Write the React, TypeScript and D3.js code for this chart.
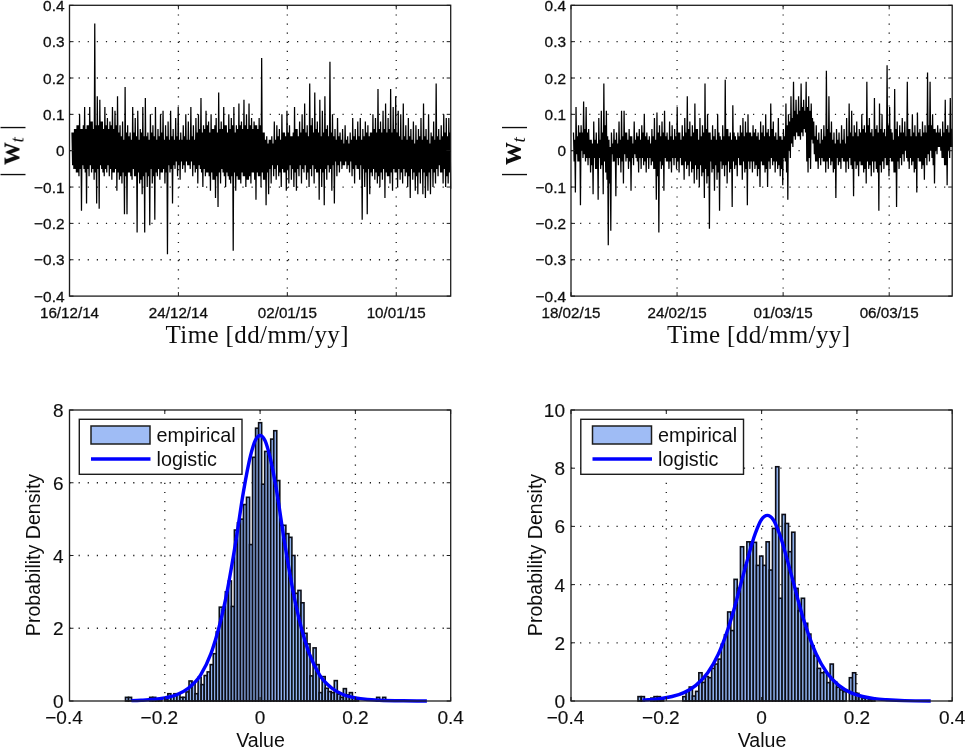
import React from "react";
import * as d3 from "d3";

const W = 965;
const H = 749;

// Time series 1: outer peaks and troughs
const highs1 = [
  .05,.06,.07,.10,.06,.12,.07,.12,.08,.35,
  .15,.14,.08,.12,.09,.08,.12,.11,.15,.07,
  .08,.175,.07,.05,.12,.09,.11,.06,.12,.145,
  .05,.10,.07,.12,.06,.10,.11,.07,.08,.11,
  .06,.09,.12,.05,.07,.10,.08,.12,.07,.09,
  .10,.145,.07,.11,.08,.10,.06,.09,.16,.08,
  .12,.07,.10,.09,.12,.07,.13,.08,.14,.10,
  .13,.09,.08,.07,.09,.255,.05,.04,.03,.04,
  .08,.07,.06,.10,.05,.11,.07,.04,.12,.06,
  .08,.10,.13,.07,.185,.09,.16,.08,.14,.11,
  .15,.07,.245,.10,.06,.09,.05,.06,.07,.04,
  .05,.09,.06,.08,.09,.06,.08,.07,.05,.10,
  .09,.17,.08,.11,.13,.09,.17,.12,.15,.11,
  .10,.13,.07,.09,.06,.08,.07,.06,.09,.13,
  .06,.10,.05,.08,.185,.06,.07,.10,.09,.09,
];
const lows1 = [
  -.05,-.06,-.07,-.165,-.05,-.145,-.07,-.06,-.08,-.145,
  -.16,-.05,-.07,-.06,-.07,-.08,-.06,-.11,-.08,-.09,
  -.175,-.175,-.06,-.08,-.07,-.225,-.09,-.12,-.225,-.10,
  -.205,-.09,-.19,-.07,-.08,-.06,-.09,-.285,-.06,-.145,
  -.05,-.07,-.08,-.05,-.06,-.04,-.05,-.07,-.06,-.09,
  -.05,-.10,-.07,-.06,-.11,-.08,-.13,-.155,-.09,-.06,
  -.10,-.07,-.09,-.275,-.11,-.08,-.09,-.07,-.10,-.08,
  -.09,-.06,-.135,-.07,-.10,-.08,-.15,-.12,-.09,-.07,
  -.08,-.07,-.10,-.06,-.11,-.09,-.08,-.10,-.11,-.07,
  -.09,-.06,-.08,-.10,-.07,-.09,-.06,-.135,-.10,-.15,
  -.08,-.06,-.11,-.145,-.07,-.06,-.05,-.04,-.05,-.06,
  -.07,-.09,-.05,-.08,-.19,-.10,-.175,-.12,-.07,-.08,
  -.09,-.10,-.08,-.13,-.07,-.09,-.11,-.06,-.10,-.08,
  -.09,-.07,-.10,-.13,-.08,-.11,-.12,-.09,-.12,-.13,
  -.11,-.12,-.10,-.09,-.07,-.06,-.09,-.10,-.09,-.105,
];
// Series 1: edge of the solid black band
const bandHigh1 = [
  .05,.06,.07,.06,.07,.06,.07,.08,.06,.07,
  .07,.08,.06,.07,.06,.07,.06,.07,.05,.04,
  .03,.05,.04,.03,.05,.04,.03,.05,.04,.04,
  .03,.05,.04,.03,.04,.05,.03,.04,.03,.04,
  .03,.04,.03,.03,.04,.03,.03,.04,.03,.05,
  .06,.05,.06,.07,.05,.06,.07,.05,.06,.06,
  .07,.05,.06,.07,.05,.06,.07,.06,.07,.06,
  .07,.06,.07,.06,.07,.05,.03,.02,.03,.02,
  .03,.04,.03,.05,.04,.05,.04,.05,.06,.04,
  .05,.06,.05,.04,.07,.05,.06,.05,.04,.05,
  .06,.04,.05,.04,.03,.04,.03,.02,.03,.02,
  .03,.04,.03,.04,.03,.04,.05,.04,.05,.06,
  .05,.06,.05,.06,.05,.06,.05,.06,.05,.04,
  .03,.04,.03,.04,.03,.02,.03,.04,.03,.04,
  .03,.02,.04,.03,.04,.03,.04,.05,.04,.05,
];
const bandLow1 = [
  -.04,-.05,-.06,-.05,-.04,-.06,-.05,-.04,-.05,-.06,
  -.05,-.04,-.06,-.05,-.04,-.05,-.06,-.05,-.06,-.07,
  -.06,-.07,-.06,-.07,-.05,-.07,-.06,-.08,-.07,-.06,
  -.07,-.05,-.07,-.06,-.05,-.06,-.05,-.06,-.04,-.05,
  -.04,-.03,-.04,-.03,-.04,-.03,-.04,-.03,-.04,-.05,
  -.04,-.06,-.05,-.06,-.07,-.06,-.08,-.07,-.06,-.05,
  -.07,-.06,-.08,-.07,-.06,-.07,-.08,-.06,-.07,-.08,
  -.07,-.06,-.08,-.06,-.07,-.06,-.08,-.06,-.05,-.04,
  -.05,-.04,-.06,-.05,-.06,-.05,-.04,-.05,-.06,-.05,
  -.04,-.05,-.04,-.06,-.05,-.04,-.05,-.06,-.05,-.06,
  -.05,-.04,-.05,-.04,-.03,-.04,-.03,-.04,-.03,-.04,
  -.03,-.05,-.04,-.05,-.04,-.05,-.06,-.05,-.06,-.05,
  -.06,-.07,-.06,-.05,-.06,-.07,-.06,-.05,-.06,-.05,
  -.06,-.05,-.06,-.07,-.05,-.06,-.07,-.06,-.05,-.06,
  -.07,-.06,-.05,-.06,-.05,-.04,-.06,-.05,-.07,-.06,
];

// Time series 2
const highs2 = [
  .05,.12,.07,.07,.135,.12,.06,.03,.08,.05,
  .09,.11,.185,.11,.03,.05,.06,.05,.08,.11,
  .11,.05,.06,.04,.08,.05,.06,.07,.10,.05,
  .04,.06,.09,.105,.07,.08,.11,.05,.08,.07,
  .06,.12,.05,.07,.09,.15,.08,.07,.13,.06,
  .09,.07,.185,.10,.05,.07,.06,.10,.04,.07,
  .195,.06,.05,.125,.04,.05,.07,.09,.08,.10,
  .05,.07,.06,.05,.08,.07,.10,.06,.13,.08,
  .05,.09,.04,.06,.13,.10,.15,.19,.14,.15,
  .185,.14,.19,.15,.13,.08,.07,.05,.06,.07,
  .22,.15,.08,.05,.06,.05,.07,.06,.09,.13,
  .11,.07,.08,.06,.10,.07,.19,.09,.06,.145,
  .07,.13,.10,.06,.235,.12,.05,.17,.08,.07,
  .09,.08,.19,.06,.10,.07,.105,.06,.08,.07,
  .215,.19,.10,.06,.07,.06,.08,.14,.07,.145,
];
const lows2 = [
  -.115,-.03,-.15,-.02,-.03,-.04,-.06,-.12,-.05,-.135,
  -.05,-.12,-.06,-.26,-.22,-.03,-.125,-.04,-.06,-.09,
  -.03,-.05,-.11,-.04,-.02,-.06,-.05,-.04,-.06,-.05,
  -.04,-.05,-.135,-.225,-.05,-.11,-.03,-.05,-.06,-.04,
  -.05,-.06,-.04,-.08,-.05,-.07,-.06,-.09,-.08,-.10,
  -.07,-.13,-.09,-.215,-.06,-.11,-.08,-.165,-.05,-.07,
  -.09,-.06,-.155,-.05,-.07,-.04,-.08,-.06,-.15,-.05,
  -.06,-.05,-.07,-.10,-.04,-.06,-.10,-.05,-.04,-.06,
  -.05,-.07,-.095,-.03,-.135,-.02,.01,.03,.04,.03,
  .04,.05,-.06,-.05,.02,-.03,-.05,-.04,-.03,-.06,
  -.05,-.04,-.06,-.13,-.04,-.05,-.03,-.06,-.05,-.04,
  -.125,-.05,-.07,-.04,-.06,-.09,-.05,-.07,-.06,-.05,
  -.165,-.06,-.05,-.04,-.07,-.03,-.06,-.155,-.05,-.04,
  -.03,-.02,-.05,-.04,-.06,-.115,-.03,-.05,-.08,-.04,
  -.03,-.02,-.09,-.01,.01,-.02,-.04,-.095,-.02,.01,
];
const bandHigh2 = [
  .03,.04,.05,.05,.06,.05,.03,.02,.03,.02,
  .03,.05,.07,.04,.01,.02,.03,.02,.03,.04,
  .05,.03,.04,.02,.03,.04,.03,.05,.04,.03,
  .02,.04,.03,.05,.04,.05,.04,.03,.04,.03,
  .04,.05,.03,.04,.05,.06,.04,.05,.06,.03,
  .04,.05,.06,.05,.03,.04,.03,.05,.03,.04,
  .06,.04,.03,.05,.03,.04,.05,.04,.05,.05,
  .04,.05,.04,.03,.05,.04,.05,.04,.06,.04,
  .03,.04,.03,.04,.07,.08,.09,.11,.10,.11,
  .12,.11,.12,.11,.09,.04,.03,.02,.03,.04,
  .06,.05,.03,.02,.03,.02,.03,.02,.04,.05,
  .04,.05,.04,.05,.06,.05,.07,.05,.04,.06,
  .05,.06,.05,.04,.07,.06,.03,.06,.04,.05,
  .05,.04,.06,.04,.05,.04,.05,.04,.05,.05,
  .07,.07,.06,.05,.05,.04,.05,.06,.05,.06,
];
const bandLow2 = [
  -.03,-.01,-.03,0,-.01,-.02,-.02,-.04,-.02,-.05,
  -.02,-.04,-.03,-.08,-.09,-.01,-.03,-.02,-.02,-.03,
  -.01,-.02,-.03,-.02,-.01,-.03,-.02,-.02,-.03,-.02,
  -.02,-.03,-.05,-.07,-.03,-.04,-.02,-.03,-.03,-.02,
  -.02,-.03,-.02,-.04,-.03,-.04,-.03,-.05,-.04,-.05,
  -.04,-.06,-.05,-.07,-.03,-.05,-.04,-.06,-.03,-.04,
  -.04,-.03,-.05,-.03,-.04,-.02,-.04,-.03,-.05,-.03,
  -.03,-.03,-.04,-.05,-.03,-.04,-.05,-.03,-.02,-.03,
  -.03,-.04,-.05,-.02,-.06,0,.02,.04,.05,.04,
  .05,.06,-.03,-.02,.03,-.01,-.03,-.02,-.02,-.03,
  -.03,-.02,-.03,-.05,-.02,-.03,-.02,-.03,-.03,-.02,
  -.05,-.03,-.04,-.03,-.04,-.05,-.03,-.04,-.03,-.03,
  -.06,-.04,-.03,-.02,-.04,-.02,-.03,-.06,-.03,-.02,
  -.01,0,-.03,-.02,-.03,-.05,-.02,-.03,-.04,-.02,
  -.01,0,-.04,0,.01,0,-.02,-.04,0,.01,
];

const dateLabels1 = ["16/12/14", "24/12/14", "02/01/15", "10/01/15"];
const dateLabels2 = ["18/02/15", "24/02/15", "01/03/15", "06/03/15"];
const seriesTicks = [-0.4, -0.3, -0.2, -0.1, 0, 0.1, 0.2, 0.3, 0.4];
const valueTicks = [-0.4, -0.2, 0, 0.2, 0.4];

// Histogram heights
const hist1Start = -0.2825;
const hist1Step = 0.00635;
const hist1 = [
  .1,.1,0,0,0,0,0,0,.1,.1,
  .05,.05,0,.05,.2,.13,.2,.2,.1,.1,
  .25,.55,.5,.2,.65,.45,.7,.8,1.0,1.3,
  1.9,2.58,2.5,3.0,3.3,2.6,4.7,4.9,5.0,5.4,
  5.6,4.3,6.7,7.5,7.65,5.96,6.86,6.8,7.2,7.43,
  6.06,4.83,4.83,4.6,4.5,4.0,2.96,3.04,2.7,1.86,
  1.57,.69,1.46,1.0,.23,.67,.35,.26,.23,.56,
  .19,.1,.34,.17,.23,.1,.05,0,0,0,
  0,0,0,.1,0,.1,
];
const hist2Start = -0.2594;
const hist2Step = 0.00672;
const hist2 = [
  .15,.15,0,0,.1,.15,.15,.05,0,0,
  0,0,0,0,.15,.33,.48,.17,.33,.97,
  .64,.84,.8,1.12,1.27,1.44,1.95,2.27,3.06,2.42,
  4.18,3.87,5.3,4.66,5.47,5.47,5.45,4.66,4.98,4.66,
  5.47,4.5,5.93,8.05,3.53,6.41,6.1,5.13,5.8,3.87,
  3.1,3.53,2.67,2.3,1.9,1.55,1.12,.97,1.0,.63,
  1.27,.66,.47,.38,.32,0,.8,.97,.26,.15,
  .1,.1,.05,.1,
];

// Logistic fit curves
const logisticX1 = [-.27,-.25,-.225,-.2,-.175,-.15,-.125,-.1,-.075,-.05,-.035,-.02,-.01,0,.01,.02,.035,.05,.075,.1,.125,.15,.175,.2,.225,.25,.3,.35];
const logisticY1 = [.01,.02,.04,.085,.173,.357,.71,1.42,2.64,4.47,5.75,6.75,7.17,7.3,7.17,6.75,5.75,4.47,2.64,1.42,.71,.357,.173,.085,.04,.02,.005,.001];
const logisticX2 = [-.25,-.238,-.213,-.188,-.163,-.138,-.113,-.088,-.063,-.038,-.013,-.0005,.012,.0245,.037,.062,.087,.112,.137,.162,.187,.212,.237,.262,.3,.355];
const logisticY2 = [.03,.044,.082,.154,.288,.536,.97,1.71,2.86,4.36,5.77,6.23,6.38,6.23,5.77,4.36,2.86,1.71,.97,.536,.288,.154,.082,.044,.012,.002];

const sans = "'Liberation Sans', Arial, sans-serif";
const serif = "'Liberation Serif', serif";
const ink = "#1c1c1c";
const fmt = (v: number) => (v === 0 ? "0" : v.toFixed(1).replace("-", "\u2212"));

const weave = (a: number[], b: number[], c: number[], d: number[]) => a.flatMap((v, i) => [v, c[i], b[i], d[i]]);

function Frame({ l, t, w, h }: { l: number; t: number; w: number; h: number }) {
  return <rect x={l} y={t} width={w} height={h} fill="none" stroke={ink} strokeWidth={1.3} />;
}

function SeriesPanel({ left, highs, bandHigh, bandLow, lows, labels, span }: { left: number; highs: number[]; bandHigh: number[]; bandLow: number[]; lows: number[]; labels: string[]; span: number }) {
  const top = 5.3, width = 381.2, height = 290.8;
  const x = d3.scaleLinear().domain([0, span]).range([left, left + width]);
  const y = d3.scaleLinear().domain([-0.4, 0.4]).range([top + height, top]);
  const values = weave(highs, bandHigh, bandLow, lows);
  const px = d3.scaleLinear().domain([0, values.length - 1]).range([left + 2.5, left + width]);
  const path = d3.line<number>().x((_, i) => px(i)).y((d) => y(d))(values) ?? "";
  const tickPos = labels.map((_, i) => i);
  const off = left - 69.5;
  return (
    <g>
      {tickPos.slice(1).map((i) => (
        <line key={i} x1={x(i)} x2={x(i)} y1={top} y2={top + height} stroke={ink} strokeWidth={1.3} strokeDasharray="1.2 7.9" />
      ))}
      {seriesTicks.slice(1, -1).map((v) => (
        <line key={v} x1={left} x2={left + width} y1={y(v)} y2={y(v)} stroke={ink} strokeWidth={1.3} strokeDasharray="1.2 7.9" />
      ))}
      <path d={path} fill="none" stroke="#000" strokeWidth={1.25} strokeLinejoin="bevel" />
      <Frame l={left} t={top} w={width} h={height} />
      {tickPos.map((i) => (
        <g key={i}>
          <line x1={x(i)} x2={x(i)} y1={top + height} y2={top + height - 4} stroke={ink} />
          <line x1={x(i)} x2={x(i)} y1={top} y2={top + 4} stroke={ink} />
          <text x={x(i)} y={318} textAnchor="middle" fontFamily={sans} fontSize={15.2} fill="#111" stroke="#111" strokeWidth={0.3}>{labels[i]}</text>
        </g>
      ))}
      {seriesTicks.map((v) => (
        <g key={v}>
          <line x1={left} x2={left + 4} y1={y(v)} y2={y(v)} stroke={ink} />
          <line x1={left + width} x2={left + width - 4} y1={y(v)} y2={y(v)} stroke={ink} />
          <text x={left - 5} y={y(v) + 5.5} textAnchor="end" fontFamily={sans} fontSize={15.4} fill="#111" stroke="#111" strokeWidth={0.3}>{fmt(v)}</text>
        </g>
      ))}
      <text x={257 + off} y={343} textAnchor="middle" fontFamily={serif} fontSize={25} textLength={183} lengthAdjust="spacing" fill="#111">Time [dd/mm/yy]</text>
      <text transform={`translate(${19.5 + off},151) rotate(-90)`} textAnchor="middle" fontFamily={serif} fontSize={27} fill="#111">
        <tspan>|</tspan>
        <tspan dx={7} fontWeight="bold" fontSize={31}>w</tspan>
        <tspan dy={4} fontSize={19} fontStyle="italic">t</tspan>
        <tspan dy={-4} dx={7}>|</tspan>
      </text>
    </g>
  );
}

function HistPanel({ left, yMax, yTicks, hist, start, step, lx, ly }: { left: number; yMax: number; yTicks: number[]; hist: number[]; start: number; step: number; lx: number[]; ly: number[] }) {
  const top = 410, width = 381.2, height = 291;
  const x = d3.scaleLinear().domain([-0.4, 0.4]).range([left, left + width]);
  const y = d3.scaleLinear().domain([0, yMax]).range([top + height, top]);
  const pts = lx.map((v, i) => [v, ly[i]] as [number, number]);
  const curve = d3.line<[number, number]>().x((d) => x(d[0])).y((d) => y(d[1])).curve(d3.curveMonotoneX)(pts) ?? "";
  const off = left - 69.5;
  return (
    <g>
      {valueTicks.slice(1, -1).map((v) => (
        <line key={v} x1={x(v)} x2={x(v)} y1={top} y2={top + height} stroke={ink} strokeWidth={1.3} strokeDasharray="1.2 7.9" />
      ))}
      {yTicks.slice(1, -1).map((v) => (
        <line key={v} x1={left} x2={left + width} y1={y(v)} y2={y(v)} stroke={ink} strokeWidth={1.3} strokeDasharray="1.2 7.9" />
      ))}
      {hist.map((v, i) =>
        v > 0 ? (
          <rect key={i} x={x(start + i * step)} y={y(v)} width={x(step) - x(0)} height={y(0) - y(v)} fill="#8fb0ee" stroke="#0d1018" strokeWidth={1.6} />
        ) : null
      )}
      <path d={curve} fill="none" stroke="#0000ff" strokeWidth={3.4} />
      <Frame l={left} t={top} w={width} h={height} />
      {valueTicks.map((v) => (
        <g key={v}>
          <line x1={x(v)} x2={x(v)} y1={top + height} y2={top + height - 4} stroke={ink} />
          <line x1={x(v)} x2={x(v)} y1={top} y2={top + 4} stroke={ink} />
          <text x={x(v) + (v < 0 ? -5.5 : 0)} y={724} textAnchor="middle" fontFamily={sans} fontSize={19} fill="#111" stroke="#111" strokeWidth={0.15}>{fmt(v)}</text>
        </g>
      ))}
      {yTicks.map((v) => (
        <g key={v}>
          <line x1={left} x2={left + 4} y1={y(v)} y2={y(v)} stroke={ink} />
          <line x1={left + width} x2={left + width - 4} y1={y(v)} y2={y(v)} stroke={ink} />
          <text x={left - 6} y={y(v) + 7} textAnchor="end" fontFamily={sans} fontSize={19} fill="#111" stroke="#111" strokeWidth={0.15}>{v}</text>
        </g>
      ))}
      <text x={260.5 + off} y={747} textAnchor="middle" fontFamily={sans} fontSize={19.6} fill="#111">Value</text>
      <text transform={`translate(${40 + off},555) rotate(-90)`} textAnchor="middle" fontFamily={sans} fontSize={19.6} fill="#111">Probability Density</text>
      <g>
        <rect x={79.3 + off} y={419.3} width={162.7} height={55} fill="#fff" stroke={ink} strokeWidth={1.4} />
        <rect x={91 + off} y={426} width={59} height={18} fill="#9fbcf5" stroke={ink} strokeWidth={1.5} />
        <line x1={91 + off} x2={150.5 + off} y1={459} y2={459} stroke="#0000ff" strokeWidth={3.4} />
        <text x={156.5 + off} y={442} fontFamily={sans} fontSize={19.8} fill="#111">empirical</text>
        <text x={156.5 + off} y={466} fontFamily={sans} fontSize={19.8} fill="#111">logistic</text>
      </g>
    </g>
  );
}

export default function App() {
  return (
    <svg width={W} height={H} viewBox={`0 0 ${W} ${H}`} style={{ position: "absolute", left: 0, top: 0, display: "block", background: "#fff" }}>
      <defs>
        <filter id="soft" x="0" y="0" width="100%" height="100%">
          <feGaussianBlur stdDeviation="0.35" />
        </filter>
      </defs>
      <g filter="url(#soft)">
        <SeriesPanel left={69.5} highs={highs1} bandHigh={bandHigh1} bandLow={bandLow1} lows={lows1} labels={dateLabels1} span={3.5} />
        <SeriesPanel left={571} highs={highs2} bandHigh={bandHigh2} bandLow={bandLow2} lows={lows2} labels={dateLabels2} span={3.594} />
        <HistPanel left={69.5} yMax={8} yTicks={[0, 2, 4, 6, 8]} hist={hist1} start={hist1Start} step={hist1Step} lx={logisticX1} ly={logisticY1} />
        <HistPanel left={571} yMax={10} yTicks={[0, 2, 4, 6, 8, 10]} hist={hist2} start={hist2Start} step={hist2Step} lx={logisticX2} ly={logisticY2} />
      </g>
    </svg>
  );
}
